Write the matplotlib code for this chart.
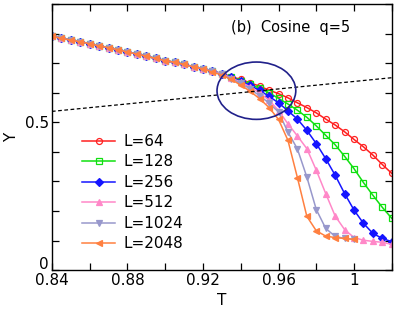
import matplotlib
matplotlib.use("Agg")
import matplotlib.pyplot as plt
from matplotlib.patches import Ellipse
from matplotlib.ticker import MultipleLocator, FixedLocator
import matplotlib.transforms as mtransforms
import numpy as np

# temperature grid, 0.84 ... 1.02 step 0.005
T = np.round(np.arange(0.84, 1.0201, 0.005), 3)

common = [0.791, 0.785, 0.778, 0.773, 0.766, 0.759, 0.753, 0.746, 0.738, 0.731,
          0.724, 0.716, 0.709, 0.703, 0.696, 0.688, 0.681, 0.673, 0.665]

y64 = common + [0.655, 0.645, 0.634, 0.622, 0.609, 0.597, 0.583, 0.566, 0.550,
                0.532, 0.511, 0.491, 0.468, 0.442, 0.417, 0.389, 0.357, 0.327]
y128 = common + [0.653, 0.641, 0.629, 0.615, 0.600, 0.581, 0.562, 0.541, 0.517,
                 0.488, 0.456, 0.424, 0.385, 0.343, 0.296, 0.253, 0.212, 0.175]
y256 = common + [0.652, 0.639, 0.625, 0.608, 0.588, 0.566, 0.539, 0.511, 0.473,
                 0.428, 0.377, 0.321, 0.259, 0.203, 0.158, 0.124, 0.107, 0.096]
y512 = common + [0.650, 0.636, 0.620, 0.600, 0.575, 0.540, 0.495, 0.454, 0.411,
                 0.338, 0.259, 0.183, 0.137, 0.110, 0.101, 0.097, 0.094, 0.087]
y1024 = common[:18] + [0.662, 0.648, 0.632, 0.613, 0.590, 0.565, 0.535, 0.467,
                       0.410, 0.315, 0.205, 0.141, 0.114, 0.107, 0.104]
y2048 = common[:17] + [0.670, 0.660, 0.645, 0.626, 0.605, 0.580, 0.550, 0.510,
                       0.439, 0.313, 0.182, 0.133, 0.115, 0.110, 0.107, 0.104]

series = [
    ("L=64", y64, "#ff2020", "o", "none"),
    ("L=128", y128, "#10e010", "s", "none"),
    ("L=256", y256, "#1515ff", "D", None),
    ("L=512", y512, "#ff88c8", "^", None),
    ("L=1024", y1024, "#9898cc", "v", None),
    ("L=2048", y2048, "#ff8040", "<", None),
]

# dashed reference line end points
dash_T = [0.84, 1.02]
dash_Y = [0.537, 0.651]

fig = plt.figure(figsize=(3.99, 3.17), dpi=100)
ax = fig.add_axes([0.130, 0.148, 0.852, 0.839])

for label, y, c, m, fc in series:
    n = len(y)
    kw = dict(color=c, marker=m, markersize=4.3, linewidth=1.1,
              markeredgewidth=0.9, label=label)
    if fc is not None:
        kw["markerfacecolor"] = fc
    if m == "D":
        kw["markersize"] = 3.6
    ax.plot(T[:n], y, **kw)

ax.plot(dash_T, dash_Y, color="black", linestyle=(0, (3, 2)), linewidth=0.9)

ax.add_patch(Ellipse((0.9483, 0.607), 0.0417, 0.194, fill=False,
                     edgecolor="#20208a", linewidth=1.2, zorder=5))

ax.set_xlim(0.84, 1.02)
ax.set_ylim(0, 0.9)
ax.xaxis.set_major_locator(FixedLocator([0.84, 0.88, 0.92, 0.96, 1.0]))
ax.set_xticklabels(["0.84", "0.88", "0.92", "0.96", "1"])
ax.xaxis.set_minor_locator(MultipleLocator(0.02))
ax.yaxis.set_major_locator(FixedLocator([0, 0.5]))
ax.set_yticklabels(["0", "0.5"])
ax.yaxis.set_minor_locator(MultipleLocator(0.1))
ax.tick_params(which="both", direction="in", top=True, right=True,
               labelsize=11, width=0.9)
ax.tick_params(which="major", length=5, pad=2)
ax.tick_params(which="minor", length=5)
for s in ax.spines.values():
    s.set_linewidth(1.0)

# lift the "0" label a little so it clears "0.84"
zero = ax.get_yticklabels()[0]
zero.set_transform(zero.get_transform() +
                   mtransforms.ScaledTranslation(0, 7 / 100, fig.dpi_scale_trans))

ax.set_xlabel("T", fontsize=11, labelpad=4)
ax.set_ylabel("Y", fontsize=11, labelpad=4)

ax.text(0.9347, 0.807, "(b)  Cosine  q=5", fontsize=10.5)

ax.legend(loc="upper left", bbox_to_anchor=(0.07, 0.535), frameon=False,
          fontsize=11, handlelength=2.2, handletextpad=0.5,
          labelspacing=0.36, borderaxespad=0)

fig.savefig("out.png", dpi=100)
